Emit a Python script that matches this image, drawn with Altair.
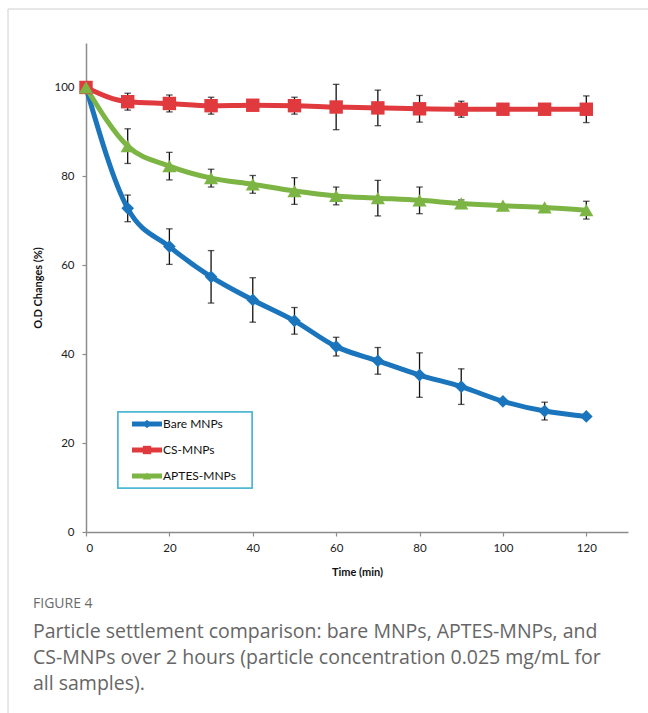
import altair as alt
import pandas as pd

# ---------------- data ----------------
time = [0, 10, 20, 30, 40, 50, 60, 70, 80, 90, 100, 110, 120]
series_names = ["Bare MNPs", "CS-MNPs", "APTES-MNPs"]
series_colors = ["#1B75BC", "#E03A3E", "#7DB544"]
series_shapes = ["diamond", "square", "triangle-up"]

bare = [100, 72.8, 64.2, 57.4, 52.2, 47.5, 41.7, 38.5, 35.3, 32.7, 29.4, 27.2, 26.0]
bare_err = [0, 3.0, 4.0, 5.9, 5.0, 3.0, 2.1, 3.0, 5.0, 4.0, 0.6, 2.0, 0.6]
cs = [100, 96.8, 96.4, 95.9, 96.0, 95.9, 95.6, 95.4, 95.2, 95.1, 95.1, 95.1, 95.1]
cs_err = [0, 1.9, 1.9, 1.9, 0.5, 1.9, 5.1, 4.0, 3.0, 1.8, 0.5, 0.5, 3.0]
aptes = [100, 86.8, 82.3, 79.6, 78.2, 76.7, 75.6, 75.1, 74.6, 73.9, 73.4, 73.0, 72.4]
aptes_err = [0, 3.9, 3.1, 2.0, 2.0, 3.0, 2.0, 4.0, 3.0, 0.8, 0.4, 0.4, 2.0]

x_ticks = [0, 20, 40, 60, 80, 100, 120]
y_ticks = [0, 20, 40, 60, 80, 100]

figure_label = "FIGURE 4"
caption_lines = [
    "Particle settlement comparison: bare MNPs, APTES-MNPs, and",
    "CS-MNPs over 2 hours (particle concentration 0.025 mg/mL for",
    "all samples).",
]

# ---------------- tables ----------------
rows = []
for name, vals, errs in zip(series_names, [bare, cs, aptes], [bare_err, cs_err, aptes_err]):
    for t, v, e in zip(time, vals, errs):
        rows.append({"series": name, "time": t, "value": v, "err": e,
                     "lo": v - e, "hi": v + e})
df = pd.DataFrame(rows)
df_leg = pd.DataFrame({"series": series_names, "row": list(range(len(series_names)))})
df_cap = pd.DataFrame({"line": caption_lines, "row": list(range(len(caption_lines)))})
df_fig = pd.DataFrame({"line": [figure_label]})

W, H = 542, 489
AXIS_FONT = "Lato"

color_scale = alt.Scale(domain=series_names, range=series_colors)
shape_scale = alt.Scale(domain=series_names, range=series_shapes)
size_scale = alt.Scale(domain=series_names, range=[160, 200, 220])

xs = alt.Scale(domain=[0, 130], nice=False, zero=False)
ys = alt.Scale(domain=[0, 110], nice=False)

x_enc = alt.X("time:Q", scale=xs,
              axis=alt.Axis(values=x_ticks, title="Time (min)", grid=False,
                            domainColor="#8c8c8c", domainWidth=1.5,
                            tickColor="#8c8c8c", tickWidth=1.2, tickSize=4,
                            labelFont=AXIS_FONT, labelFontSize=11.5, labelColor="#222",
                            labelPadding=6, titleFont=AXIS_FONT, titleFontSize=11,
                            titleFontWeight="bold", titleColor="#111", titlePadding=13))
y_enc = alt.Y("value:Q", scale=ys,
              axis=alt.Axis(values=y_ticks, title="O.D Changes (%)", grid=False,
                            domainColor="#8c8c8c", domainWidth=1.5,
                            tickColor="#8c8c8c", tickWidth=1.2, tickSize=4,
                            labelFont=AXIS_FONT, labelFontSize=11.5, labelColor="#222",
                            labelPadding=8, titleFont=AXIS_FONT, titleFontSize=11,
                            titleFontWeight="bold", titleColor="#111", titlePadding=10))

base = alt.Chart(df)

lines = base.mark_line(strokeWidth=5, interpolate="monotone").encode(
    x=x_enc, y=y_enc,
    color=alt.Color("series:N", scale=color_scale, legend=None),
    detail="series:N",
)

err_df = base.transform_filter("datum.err > 0.7")
bars = err_df.mark_rule(color="#111", strokeWidth=1.3).encode(
    x="time:Q", y="lo:Q", y2="hi:Q")
cap_hi = err_df.mark_tick(color="#111", thickness=1.3, size=6.5, orient="horizontal").encode(
    x="time:Q", y="hi:Q")
cap_lo = err_df.mark_tick(color="#111", thickness=1.3, size=6.5, orient="horizontal").encode(
    x="time:Q", y="lo:Q")

points = base.mark_point(filled=True, opacity=1).encode(
    x="time:Q", y="value:Q",
    color=alt.Color("series:N", scale=color_scale, legend=None),
    shape=alt.Shape("series:N", scale=shape_scale, legend=None),
    size=alt.Size("series:N", scale=size_scale, legend=None),
)

# ---------------- legend (manual) ----------------
leg_base = alt.Chart(df_leg).transform_calculate(py="381 + datum.row * 26")
leg_box = alt.Chart(df_leg).mark_rect(fill="white", stroke="#4DB6D3", strokeWidth=1.5).encode(
    x=alt.value(32), x2=alt.value(166), y=alt.value(369), y2=alt.value(445))
leg_line = leg_base.mark_rule(strokeWidth=5).encode(
    x=alt.value(46), x2=alt.value(76),
    y=alt.Y("py:Q", scale=None, axis=None),
    color=alt.Color("series:N", scale=color_scale, legend=None))
leg_pt = leg_base.mark_point(filled=True, opacity=1, size=70).encode(
    x=alt.value(61),
    y=alt.Y("py:Q", scale=None, axis=None),
    color=alt.Color("series:N", scale=color_scale, legend=None),
    shape=alt.Shape("series:N", scale=shape_scale, legend=None))
leg_txt = leg_base.mark_text(align="left", baseline="middle", font=AXIS_FONT,
                             fontSize=12, color="#111").encode(
    x=alt.value(77),
    y=alt.Y("py:Q", scale=None, axis=None),
    text="series:N")

# ---------------- frame & caption ----------------
frame_top = alt.Chart(df_fig).mark_rule(color="#d0d0d0", strokeWidth=1).encode(
    x=alt.value(-78), x2=alt.value(570), y=alt.value(-34))
frame_left = alt.Chart(df_fig).mark_rule(color="#d0d0d0", strokeWidth=1).encode(
    x=alt.value(-78), y=alt.value(-34), y2=alt.value(680))
fig_txt = alt.Chart(df_fig).mark_text(align="left", baseline="middle", font="Open Sans",
                                      fontSize=14, color="#6b6b6b").encode(
    x=alt.value(-53), y=alt.value(561), text="line:N")
cap_txt = alt.Chart(df_cap).transform_calculate(py="589 + datum.row * 26").mark_text(
    align="left", baseline="middle", font="Open Sans", fontSize=19.5, color="#666").encode(
    x=alt.value(-53), y=alt.Y("py:Q", scale=None, axis=None), text="line:N")

chart = alt.layer(
    frame_top, frame_left,
    lines, bars, cap_hi, cap_lo, points,
    leg_box, leg_line, leg_pt, leg_txt,
    fig_txt, cap_txt,
).properties(
    width=W, height=H,
    autosize=alt.AutoSizeParams(type="none"),
    padding={"left": 86, "top": 43, "right": 20, "bottom": 181},
    background="white",
).configure_view(strokeWidth=0)

chart.save("out.html", embed_options={"renderer": "svg", "actions": False})
